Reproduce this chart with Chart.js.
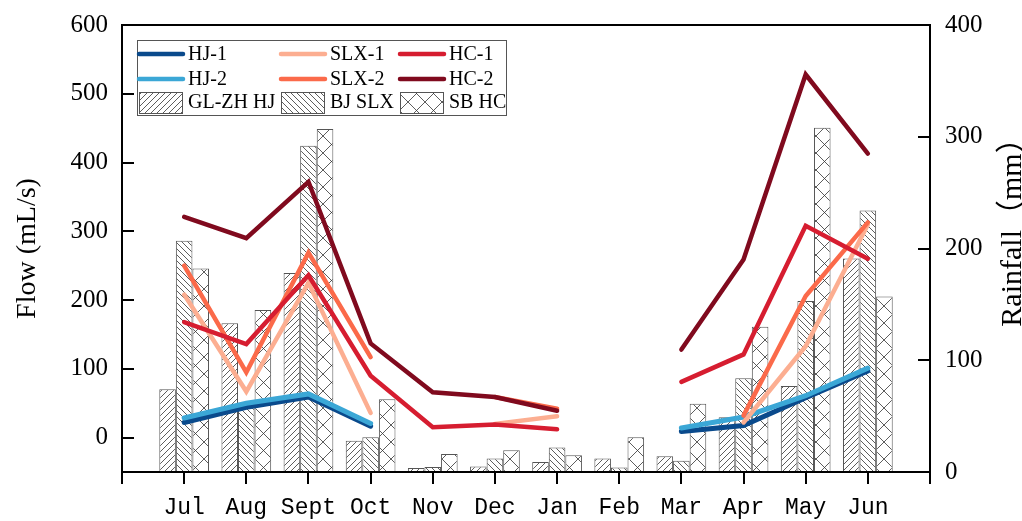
<!DOCTYPE html>
<html>
<head>
<meta charset="utf-8">
<script src="https://cdn.jsdelivr.net/npm/chart.js@4.4.0/dist/chart.umd.min.js"></script>
<style>
  html, body { margin: 0; padding: 0; background: #fff; }
  canvas { display: block; }
</style>
</head>
<body>
<canvas id="flowChart" width="1022" height="521"></canvas>
<script>
// months on the x axis
const months = ['Jul', 'Aug', 'Sept', 'Oct', 'Nov', 'Dec', 'Jan', 'Feb', 'Mar', 'Apr', 'May', 'Jun'];

// flow (mL/s), left axis
const hj1  = [22, 44, 59, 16.5, null, null, null, null, 9, 17.5, 58, 97];
const hj2  = [28.5, 50, 63.5, 20.5, null, null, null, null, 14, 30, 61, 101];
const slx1 = [208, 67, 225, 36, null, 20, 31, null, null, 22, 133, 310];
const slx2 = [250, 95, 269, 117, null, 59, 42, null, null, 32, 206, 313];
const hc1  = [168, 136, 236, 90, 15, 19, 12, null, 81, 121, 308, 260];
const hc2  = [321, 290, 372, 137, 66, 59, 39, null, 128, 259, 528, 413];

// rainfall (mm), right axis
const rainGLZH = [74, 133, 178, 28, 3.5, 5, 9, 12, 14, 49, 77, 191];
const rainBJ   = [207, 62, 292, 31, 4.5, 12, 22, 4, 10, 84, 153, 234];
const rainSB   = [182, 145, 307, 65, 16, 19.5, 15, 31, 61, 130, 308, 157];

// axis ticks
const flowMin = -50, flowMax = 600, flowStep = 100;
const rainMin = 0, rainMax = 400, rainStep = 100;

// one empty slot at each end so the months sit like the original
const labels = ['', ...months, ''];
const pad = arr => [null, ...arr, null];

// hatch fills for the bars
function hatch(kind) {
  const s = kind === 'cross' ? 17 : 6;
  const c = document.createElement('canvas');
  c.width = s; c.height = s;
  const g = c.getContext('2d');
  g.fillStyle = '#fff';
  g.fillRect(0, 0, s, s);
  g.strokeStyle = '#333';
  g.lineWidth = 0.8;
  g.beginPath();
  for (const k of [-s, 0, s]) {
    if (kind === 'fwd' || kind === 'cross') {
      g.moveTo(k, s); g.lineTo(k + s, 0);
    }
    if (kind === 'back' || kind === 'cross') {
      g.moveTo(k, 0); g.lineTo(k + s, s);
    }
  }
  g.stroke();
  return g.createPattern(c, 'repeat');
}

function lineSet(label, data, color, width, order) {
  return {
    type: 'line', label: label, data: pad(data), yAxisID: 'y',
    borderColor: color, backgroundColor: color, borderWidth: width,
    pointRadius: 0, tension: 0, spanGaps: false,
    borderCapStyle: 'round', borderJoinStyle: 'miter', order: order
  };
}

function barSet(label, data, fill) {
  return {
    type: 'bar', label: label, data: pad(data), yAxisID: 'y1',
    backgroundColor: fill, borderColor: '#555', borderWidth: 1,
    categoryPercentage: 0.8, barPercentage: 1.0, order: 10
  };
}

const datasets = [
  lineSet('HC-2', hc2, '#800a1e', 4.5, 0),
  lineSet('HC-1', hc1, '#d61d30', 4.5, 1),
  lineSet('SLX-2', slx2, '#fb6a4a', 4.5, 2),
  lineSet('SLX-1', slx1, '#fcae91', 4.5, 3),
  lineSet('HJ-2', hj2, '#3ba7d6', 5, 4),
  lineSet('HJ-1', hj1, '#0a4a8c', 5, 5),
  barSet('GL-ZH HJ', rainGLZH, hatch('fwd')),
  barSet('BJ SLX', rainBJ, hatch('back')),
  barSet('SB HC', rainSB, hatch('cross'))
];

const legendOrder = ['HJ-1', 'SLX-1', 'HC-1', 'HJ-2', 'SLX-2', 'HC-2', 'GL-ZH HJ', 'BJ SLX', 'SB HC'];

// boxed 3x3 legend inside the plot
const boxLegend = {
  id: 'boxLegend',
  afterDatasetsDraw(chart) {
    const ctx = chart.ctx;
    const colX = [137, 279, 398];
    const rowY = [54, 79, 102];
    ctx.save();
    ctx.fillStyle = '#fff';
    ctx.fillRect(137, 40, 369, 75);
    ctx.strokeStyle = '#555';
    ctx.lineWidth = 1;
    ctx.strokeRect(137.5, 40.5, 369, 75);
    ctx.font = '20px "Liberation Serif", serif';
    ctx.textBaseline = 'middle';
    legendOrder.forEach((name, i) => {
      const ds = chart.data.datasets.find(d => d.label === name);
      const x = colX[i % 3], y = rowY[Math.floor(i / 3)];
      if (ds.type === 'line') {
        ctx.strokeStyle = ds.borderColor;
        ctx.lineWidth = 4.5;
        ctx.lineCap = 'round';
        ctx.beginPath();
        ctx.moveTo(x + 2, y);
        ctx.lineTo(x + 46, y);
        ctx.stroke();
      } else {
        ctx.fillStyle = ds.backgroundColor;
        ctx.fillRect(x + 2, y - 10, 43, 21);
        ctx.strokeStyle = '#555';
        ctx.lineWidth = 1;
        ctx.strokeRect(x + 2.5, y - 9.5, 43, 21);
      }
      ctx.fillStyle = '#000';
      ctx.fillText(name, x + 51, y + 1);
    });
    ctx.restore();
  },
  afterDraw(chart) {
    const ctx = chart.ctx;
    const a = chart.chartArea;
    ctx.save();
    // top frame line
    ctx.strokeStyle = '#000';
    ctx.lineWidth = 2;
    ctx.beginPath();
    ctx.moveTo(a.left - 1, a.top);
    ctx.lineTo(a.right + 1, a.top);
    ctx.stroke();
    // right axis title, reading upward
    ctx.translate(1013, 225);
    ctx.rotate(-Math.PI / 2);
    ctx.font = '30px "Liberation Serif", "Noto Sans CJK SC", serif';
    ctx.fillStyle = '#000';
    ctx.textAlign = 'center';
    ctx.textBaseline = 'middle';
    ctx.fillText('Rainfall（mm）', 0, 0);
    ctx.restore();
  }
};

// fixed side widths; drop the label padding so the plot keeps its top edge
const fixSide = w => s => { s.width = w; s.paddingTop = 0; s.paddingBottom = 0; };

new Chart(document.getElementById('flowChart'), {
  data: { labels: labels, datasets: datasets },
  plugins: [boxLegend],
  options: {
    responsive: false,
    animation: false,
    layout: { padding: { top: 25, left: 0, right: 0, bottom: 0 } },
    plugins: {
      legend: { display: false },
      tooltip: { enabled: false }
    },
    scales: {
      x: {
        type: 'category',
        offset: false,
        grid: { offset: false, drawOnChartArea: false, drawTicks: true, tickLength: 12, color: '#000', lineWidth: 2 },
        border: { color: '#000', width: 2 },
        ticks: {
          color: '#000', padding: 10, maxRotation: 0, autoSkip: false,
          font: { family: '"Liberation Mono", monospace', size: 23 }
        },
        afterFit: s => { s.height = 49; s.paddingLeft = 0; s.paddingRight = 0; }
      },
      y: {
        position: 'left',
        min: flowMin, max: flowMax,
        grid: { drawOnChartArea: false, drawTicks: true, tickLength: -12, color: '#000', lineWidth: 2 },
        border: { color: '#000', width: 2 },
        ticks: {
          stepSize: flowStep, color: '#000', padding: 26,
          font: { family: '"Liberation Serif", serif', size: 25 },
          callback: v => (v < 0 ? '' : v)
        },
        title: {
          display: true, text: 'Flow (mL/s)', color: '#000',
          font: { family: '"Liberation Serif", serif', size: 28 },
          padding: { top: 11, bottom: 0 }
        },
        afterFit: fixSide(122)
      },
      y1: {
        position: 'right',
        min: rainMin, max: rainMax,
        grid: { drawOnChartArea: false, drawTicks: true, tickLength: -12, color: '#000', lineWidth: 2 },
        border: { color: '#000', width: 2 },
        ticks: {
          stepSize: rainStep, color: '#000', padding: 27,
          font: { family: '"Liberation Serif", serif', size: 25 }
        },
        afterFit: fixSide(92)
      }
    }
  }
});
</script>
</body>
</html>
